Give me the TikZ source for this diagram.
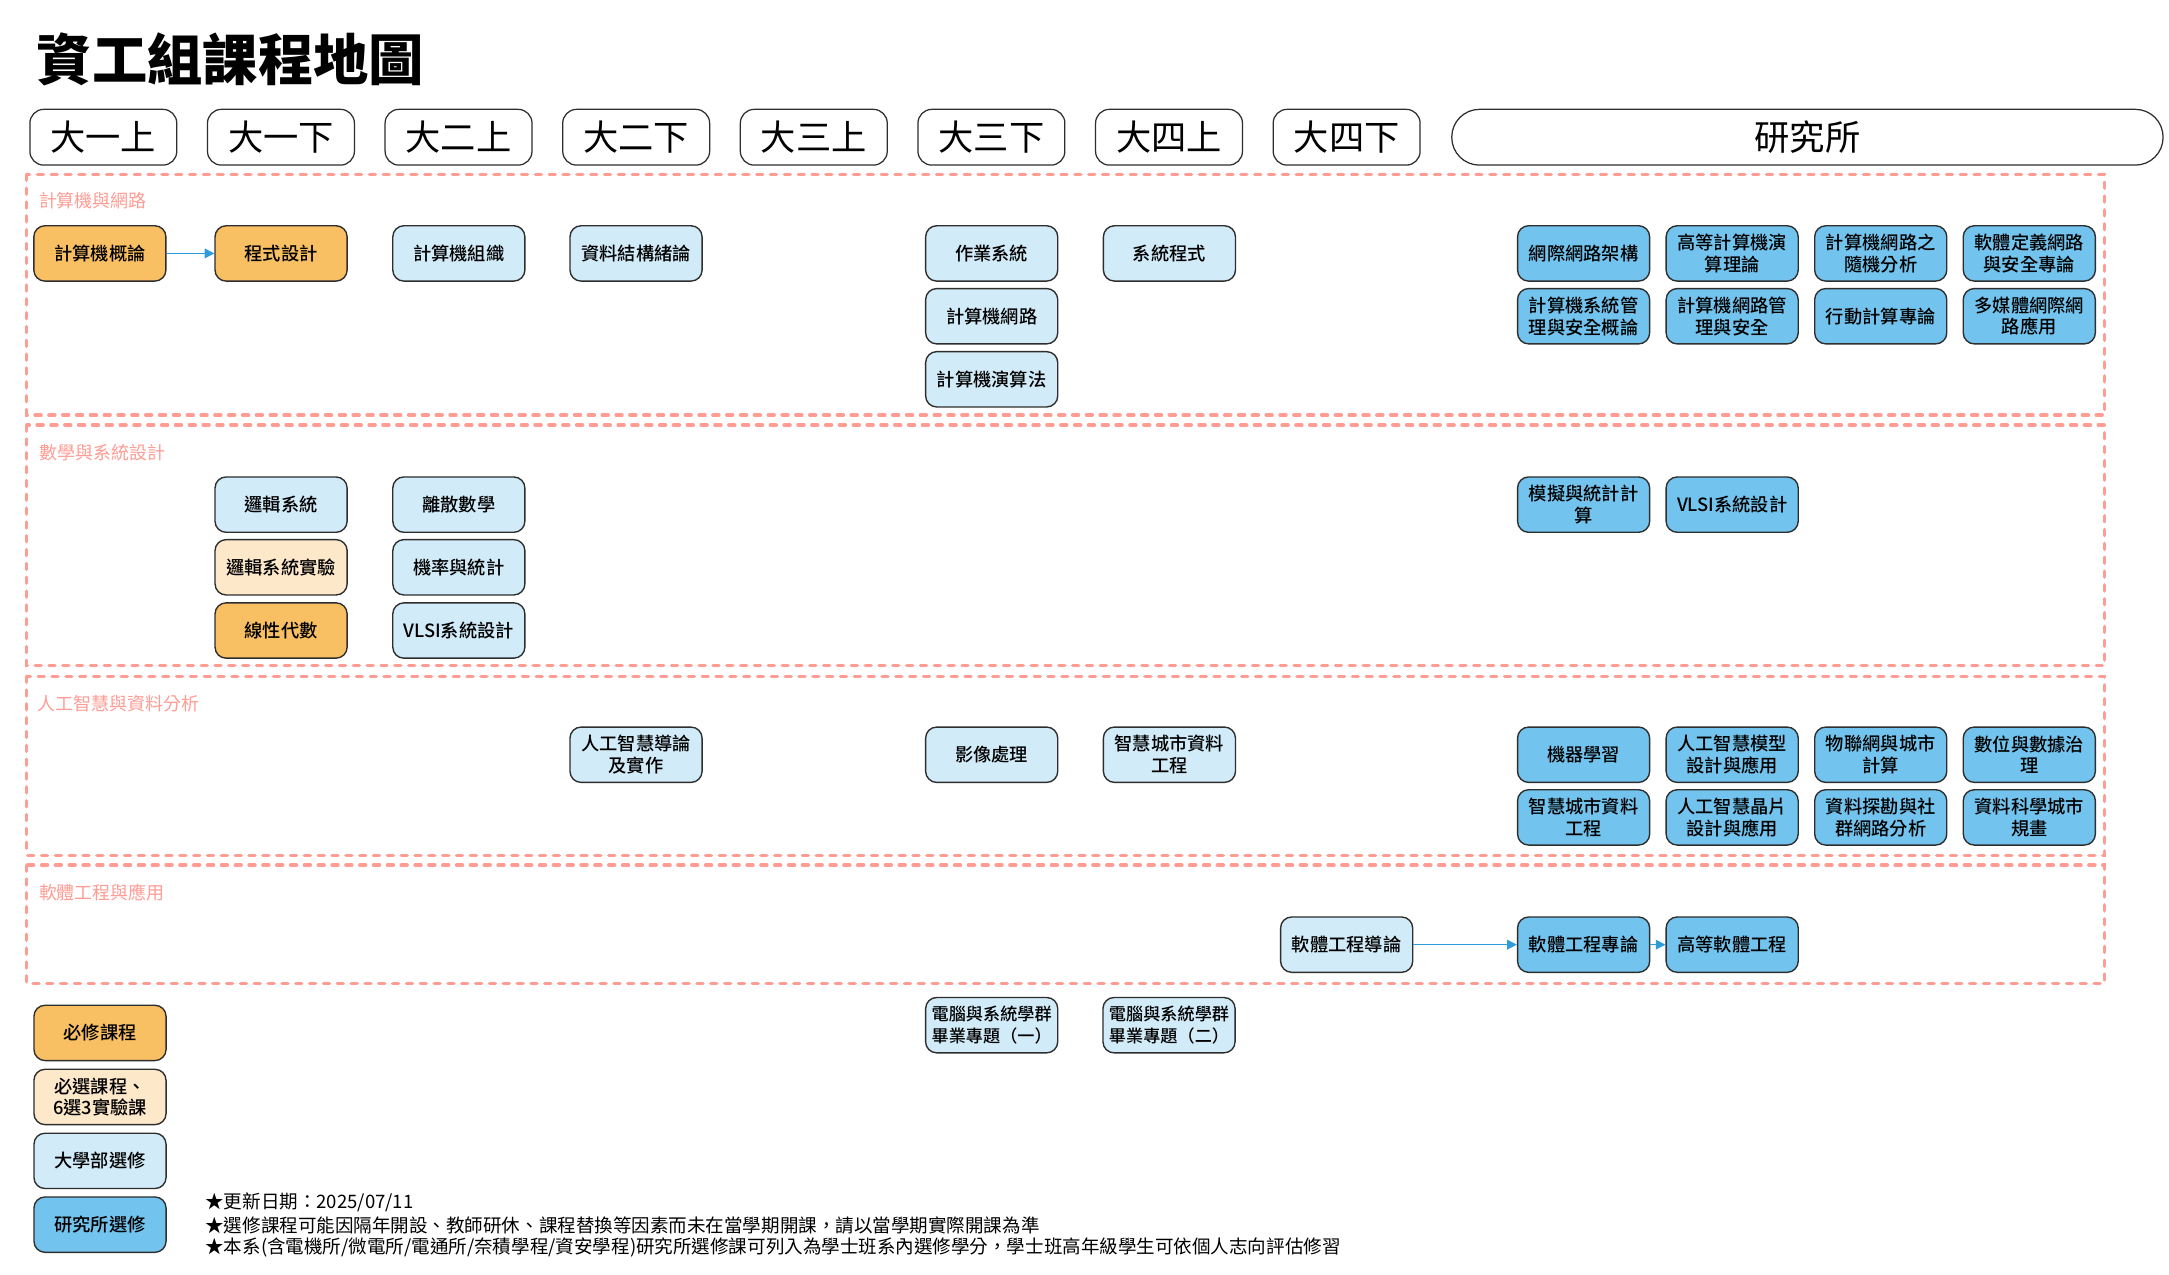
\documentclass[tikz,border=0pt]{standalone}
\usepackage{fontspec}
\setmainfont{Noto Sans CJK TC}
\newfontfamily\medfont{Noto Sans CJK TC Medium}
\usetikzlibrary{arrows.meta}
\definecolor{reqc}{HTML}{F8BF63}
\definecolor{selc}{HTML}{FDE8CA}
\definecolor{ugc}{HTML}{D1EBF8}
\definecolor{gradc}{HTML}{72C4EE}
\definecolor{bordc}{HTML}{2E2E2E}
\definecolor{dashc}{HTML}{FF9C94}
\definecolor{arrowc}{HTML}{2D9CDB}
\tikzset{
  course/.style={draw=bordc, line width=1pt, rounded corners=8pt, minimum width=95.5pt, minimum height=40pt, inner sep=0pt, align=center, font=\fontsize{13.2}{15.7}\selectfont\medfont},
  req/.style={course, fill=reqc},
  sel/.style={course, fill=selc},
  ug/.style={course, fill=ugc},
  grad/.style={course, fill=gradc},
  small/.style={font=\fontsize{12.4}{15.7}\selectfont\medfont},
  sem/.style={draw=bordc, line width=0.9pt, rounded corners=10pt, minimum width=106.2pt, minimum height=40.3pt, inner sep=0pt, font=\fontsize{25.5}{30}\selectfont},
  sect/.style={draw=dashc, line width=2.4pt, dash pattern=on 4.4pt off 5.6pt, line cap=round},
  seclabel/.style={anchor=west, inner sep=0pt, text=dashc, font=\fontsize{13}{15}\selectfont},
  note/.style={anchor=west, inner sep=0pt, font=\fontsize{13.4}{15}\selectfont},
  flow/.style={draw=arrowc, line width=1pt, -{Triangle[length=7pt,width=7pt]}},
}
\begin{document}
\begin{tikzpicture}[x=1pt,y=-1pt]
\useasboundingbox[fill=white] (0,0) rectangle (1568,921);

% title
\node[anchor=west, inner sep=0pt, font=\fontsize{40}{45}\selectfont\bfseries] (title) at (26.5,43) {資工組課程地圖};

% semester headers
\node[sem] (s1) at (74.7,99.2) {大一上};
\node[sem] (s2) at (203.1,99.2) {大一下};
\node[sem] (s3) at (331.5,99.2) {大二上};
\node[sem] (s4) at (459.9,99.2) {大二下};
\node[sem] (s5) at (588.3,99.2) {大三上};
\node[sem] (s6) at (716.7,99.2) {大三下};
\node[sem] (s7) at (845.1,99.2) {大四上};
\node[sem] (s8) at (973.5,99.2) {大四下};
\node[sem, minimum width=514.2pt, rounded corners=20pt] (s9) at (1306.6,99.2) {研究所};

% sections
\draw[sect] (19.4,126) rectangle (1521.3,300.1);
\draw[sect] (19.4,307.3) rectangle (1521.3,481.3);
\draw[sect] (19.4,488.8) rectangle (1521.3,618.2);
\draw[sect] (19.4,625.4) rectangle (1521.3,711);
\node[seclabel] (l1) at (28,145.3) {計算機與網路};
\node[seclabel] (l2) at (28.5,327.2) {數學與系統設計};
\node[seclabel] (l3) at (27,508.5) {人工智慧與資料分析};
\node[seclabel] (l4) at (28,645) {軟體工程與應用};

% section 1
\node[req] (intro) at (72.2,183.2) {計算機概論};
\node[req] (prog) at (203.2,183.2) {程式設計};
\node[ug] (org) at (331.7,183.2) {計算機組織};
\node[ug] (ds) at (459.8,183.2) {資料結構緒論};
\node[ug] (os) at (716.9,183.2) {作業系統};
\node[ug] (net) at (716.9,228.6) {計算機網路};
\node[ug] (algo) at (716.9,274.2) {計算機演算法};
\node[ug] (sp) at (845.4,183.2) {系統程式};
\node[grad] (g11) at (1144.8,183.2) {網際網路架構};
\node[grad] (g12) at (1252.2,183.2) {高等計算機演\\算理論};
\node[grad] (g13) at (1359.6,183.2) {計算機網路之\\隨機分析};
\node[grad] (g14) at (1467,183.2) {軟體定義網路\\與安全專論};
\node[grad] (g21) at (1144.8,228.6) {計算機系統管\\理與安全概論};
\node[grad] (g22) at (1252.2,228.6) {計算機網路管\\理與安全};
\node[grad] (g23) at (1359.6,228.6) {行動計算專論};
\node[grad] (g24) at (1467,228.6) {多媒體網際網\\路應用};
\draw[flow] (intro) -- (prog);

% section 2
\node[ug] (logic) at (203.2,364.8) {邏輯系統};
\node[sel] (logiclab) at (203.2,410.1) {邏輯系統實驗};
\node[req] (linalg) at (203.2,455.8) {線性代數};
\node[ug] (dm) at (331.7,364.8) {離散數學};
\node[ug] (prob) at (331.7,410.1) {機率與統計};
\node[ug] (vlsi) at (331.7,455.8) {VLSI系統設計};
\node[grad] (m1) at (1144.8,364.8) {模擬與統計計\\算};
\node[grad] (m2) at (1252.2,364.8) {VLSI系統設計};

% section 3
\node[ug] (ai) at (459.8,545.6) {人工智慧導論\\及實作};
\node[ug] (img) at (716.9,545.6) {影像處理};
\node[ug] (sc) at (845.4,545.6) {智慧城市資料\\工程};
\node[grad] (a11) at (1144.8,545.6) {機器學習};
\node[grad] (a12) at (1252.2,545.6) {人工智慧模型\\設計與應用};
\node[grad] (a13) at (1359.6,545.6) {物聯網與城市\\計算};
\node[grad] (a14) at (1467,545.6) {數位與數據治\\理};
\node[grad] (a21) at (1144.8,590.9) {智慧城市資料\\工程};
\node[grad] (a22) at (1252.2,590.9) {人工智慧晶片\\設計與應用};
\node[grad] (a23) at (1359.6,590.9) {資料探勘與社\\群網路分析};
\node[grad] (a24) at (1467,590.9) {資料科學城市\\規畫};

% section 4
\node[ug] (se1) at (973.5,682.9) {軟體工程導論};
\node[grad] (se2) at (1144.8,682.9) {軟體工程專論};
\node[grad] (se3) at (1252.2,682.9) {高等軟體工程};
\draw[flow] (se1) -- (se2);
\draw[flow] (se2) -- (se3);

% capstone
\node[ug, small] (cap1) at (716.9,741.1) {電腦與系統學群\\畢業專題（一）};
\node[ug, small] (cap2) at (845.1,741.1) {電腦與系統學群\\畢業專題（二）};

% legend
\node[req] (lg1) at (72.3,746.7) {必修課程};
\node[sel] (lg2) at (72.3,793) {必選課程、\\6選3實驗課};
\node[ug] (lg3) at (72.3,839.2) {大學部選修};
\node[grad] (lg4) at (72.3,885.3) {研究所選修};

% notes
\node[note] (n1) at (148.3,868.9) {★更新日期：2025/07/11};
\node[note] (n2) at (148.3,885.6) {★選修課程可能因隔年開設、教師研休、課程替換等因素而未在當學期開課，請以當學期實際開課為準};
\node[note] (n3) at (148.3,901.6) {★本系(含電機所/微電所/電通所/奈積學程/資安學程)研究所選修課可列入為學士班系內選修學分，學士班高年級學生可依個人志向評估修習};
\end{tikzpicture}
\end{document}
